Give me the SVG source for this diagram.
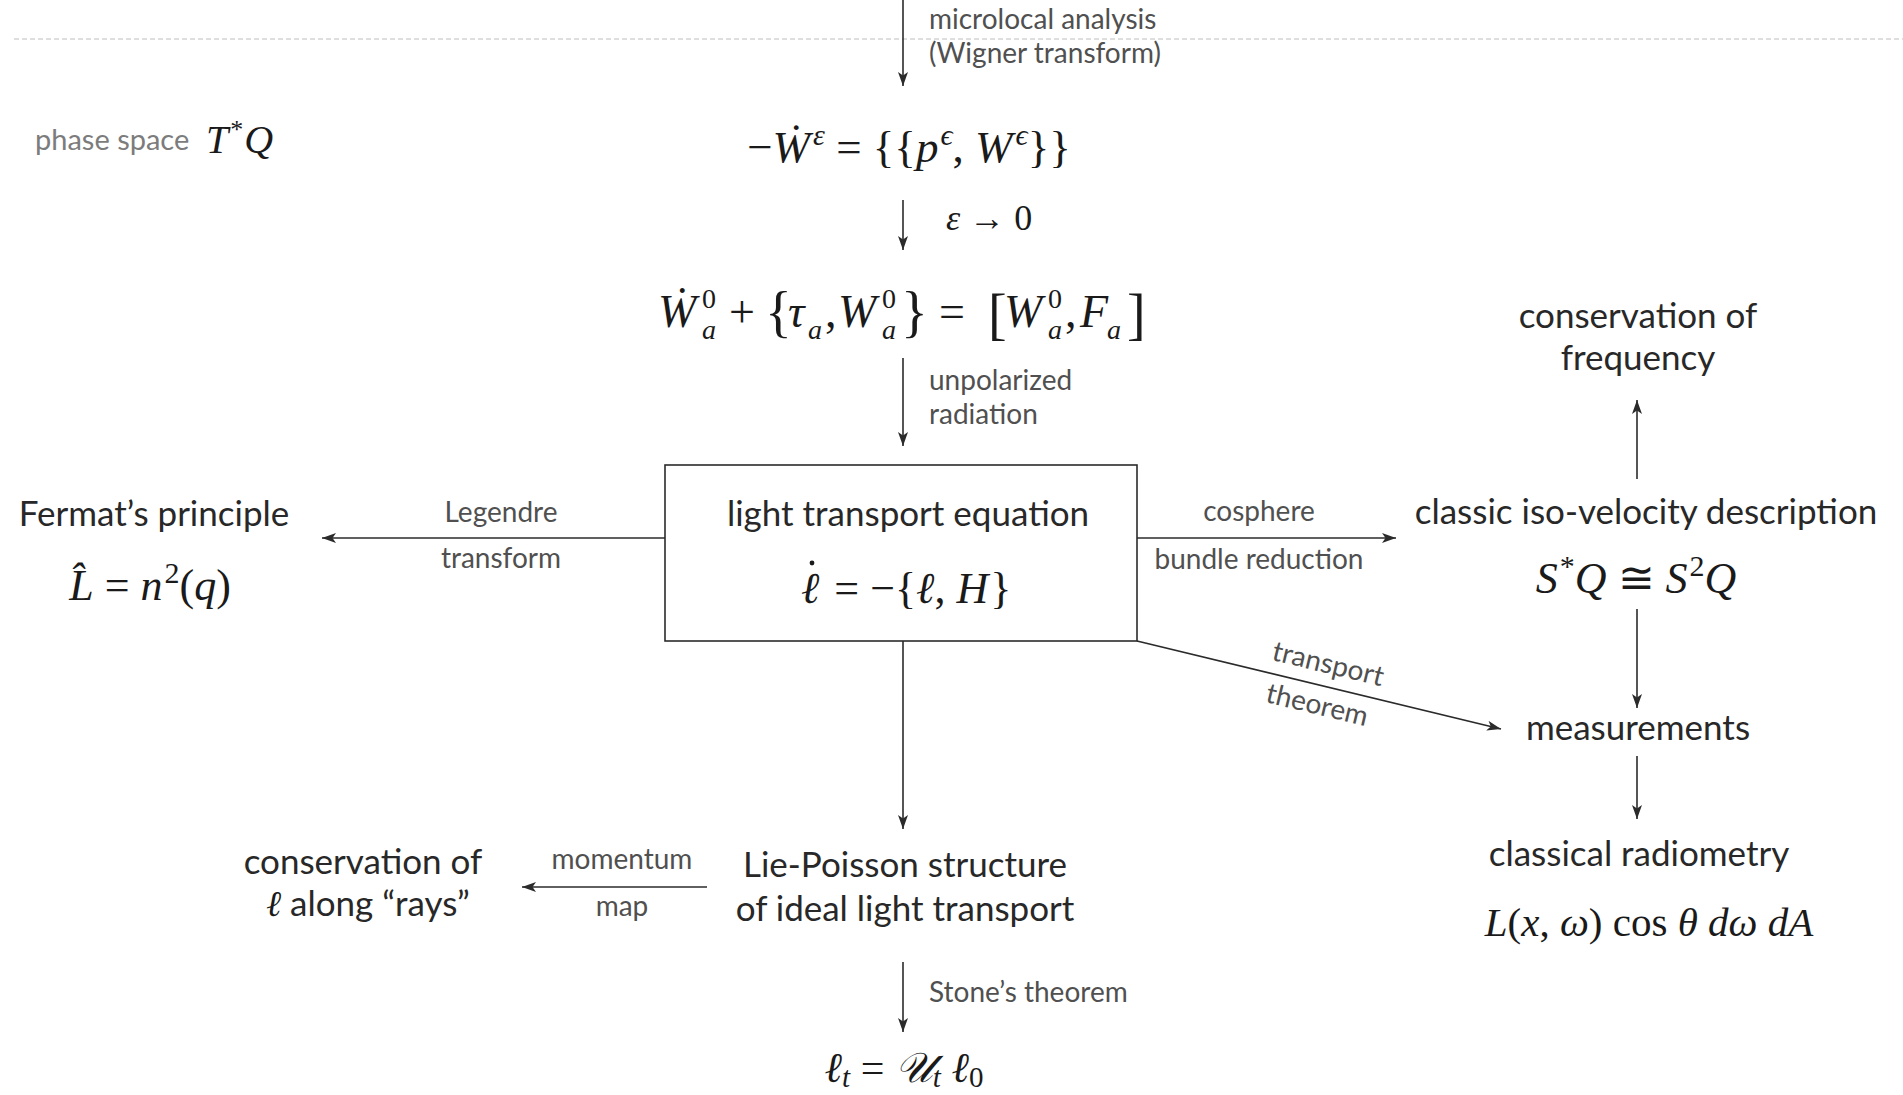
<svg xmlns="http://www.w3.org/2000/svg" width="1903" height="1095" viewBox="0 0 1903 1095">
  <style>
    .node { font-family: Lato, "Liberation Sans", sans-serif; font-size: 35px; fill: #282828; }
    .lbl { font-family: Lato, "Liberation Sans", sans-serif; font-size: 28px; fill: #505050; }
    .side { font-family: Lato, "Liberation Sans", sans-serif; font-size: 29px; fill: #7c7c7c; }
    .math { font-family: "Liberation Serif", "DejaVu Serif", serif; font-style: italic; fill: #1a1a1a; }
    .rm { font-style: normal; }
    .edge { stroke: #2b2b2b; stroke-width: 1.6; fill: none; marker-end: url(#arrow); }
    .box { stroke: #2b2b2b; stroke-width: 1.6; fill: #ffffff; }
    .sep { stroke: #bdbdbd; stroke-width: 1.2; stroke-dasharray: 5 3; fill: none; }
  </style>
  <defs>
    <marker id="arrow" markerUnits="userSpaceOnUse" markerWidth="16" markerHeight="12" refX="14" refY="5" orient="auto">
      <path d="M0,0 L14,5 L0,10 L3.5,5 Z" fill="#2b2b2b"/>
    </marker>
  </defs>

  <rect width="1903" height="1095" fill="#ffffff"/>

  <!-- separator between wave and phase-space levels -->
  <line class="sep" x1="14" y1="39" x2="1903" y2="39"/>

  <!-- connectors -->
  <g id="connectors">
    <line class="edge" x1="903" y1="0" x2="903" y2="86"/>
    <line class="edge" x1="903" y1="200" x2="903" y2="250"/>
    <line class="edge" x1="903" y1="358" x2="903" y2="446"/>
    <line class="edge" x1="665" y1="538" x2="322" y2="538"/>
    <line class="edge" x1="1137" y1="538" x2="1396" y2="538"/>
    <line class="edge" x1="1637" y1="479" x2="1637" y2="400"/>
    <line class="edge" x1="1637" y1="609" x2="1637" y2="708"/>
    <line class="edge" x1="1637" y1="756" x2="1637" y2="819"/>
    <line class="edge" x1="1137" y1="641" x2="1501" y2="729"/>
    <line class="edge" x1="903" y1="641" x2="903" y2="829"/>
    <line class="edge" x1="707" y1="887" x2="522" y2="887"/>
    <line class="edge" x1="903" y1="962" x2="903" y2="1032"/>

    <!-- edge labels -->
    <text class="lbl" x="929" y="29">microlocal analysis</text>
    <text class="lbl" x="929" y="63">(Wigner transform)</text>
    <text class="math" font-size="36" x="946" y="230">ε<tspan class="rm"> → 0</tspan></text>
    <text class="lbl" x="929" y="390">unpolarized</text>
    <text class="lbl" x="929" y="424">radiation</text>
    <text class="lbl" x="501" y="522" text-anchor="middle">Legendre</text>
    <text class="lbl" x="501" y="568" text-anchor="middle">transform</text>
    <text class="lbl" x="1259" y="521" text-anchor="middle">cosphere</text>
    <text class="lbl" x="1259" y="569" text-anchor="middle">bundle reduction</text>
    <text class="lbl" text-anchor="middle" transform="translate(1326,673) rotate(13.6)">transport</text>
    <text class="lbl" text-anchor="middle" transform="translate(1315,714) rotate(13.6)">theorem</text>
    <text class="lbl" x="622" y="869" text-anchor="middle">momentum</text>
    <text class="lbl" x="622" y="916" text-anchor="middle">map</text>
    <text class="lbl" x="929" y="1002">Stone’s theorem</text>
  </g>

  <g id="phase-space-note">
    <text class="side" x="35" y="150">phase space</text>
    <text class="math" font-size="40" x="206" y="153">T<tspan class="rm" font-size="26" dy="-15" dx="2">*</tspan><tspan dy="15" dx="1">Q</tspan></text>
  </g>

  <g id="wigner-equation">
    <text class="math" font-size="45" x="909" y="162" text-anchor="middle"><tspan class="rm">−</tspan>Ẇ<tspan font-size="30" dy="-17" dx="3">ε</tspan><tspan class="rm" dy="17"> = {{</tspan>p<tspan font-size="30" dy="-17" dx="2">ϵ</tspan><tspan class="rm" dy="17">, </tspan>W<tspan font-size="30" dy="-17" dx="3">ϵ</tspan><tspan class="rm" dy="17">}}</tspan></text>
  </g>

  <g id="limit-equation" class="math" font-size="46">
    <text x="658" y="327">Ẇ</text>
    <text x="702" y="308" font-size="28" class="rm">0</text>
    <text x="702" y="339" font-size="28">a</text>
    <text x="729" y="327" class="rm">+</text>
    <text x="765" y="331" font-size="56" class="rm">{</text>
    <text x="788" y="327">τ</text>
    <text x="808" y="339" font-size="28">a</text>
    <text x="825" y="327" class="rm">,</text>
    <text x="838" y="327">W</text>
    <text x="882" y="308" font-size="28" class="rm">0</text>
    <text x="882" y="339" font-size="28">a</text>
    <text x="901" y="331" font-size="56" class="rm">}</text>
    <text x="939" y="327" class="rm">=</text>
    <text x="988" y="333" font-size="56" class="rm">[</text>
    <text x="1004" y="327">W</text>
    <text x="1048" y="308" font-size="28" class="rm">0</text>
    <text x="1048" y="339" font-size="28">a</text>
    <text x="1065" y="327" class="rm">,</text>
    <text x="1080" y="327">F</text>
    <text x="1107" y="339" font-size="28">a</text>
    <text x="1127" y="333" font-size="56" class="rm">]</text>
  </g>

  <g id="light-transport-equation">
    <rect class="box" x="665" y="465" width="472" height="176"/>
    <text class="node" x="908" y="526" text-anchor="middle">light transport equation</text>
    <text class="math" font-size="44" x="801" y="603">ℓ<tspan class="rm" dx="4"> = −{</tspan>ℓ<tspan class="rm">, </tspan>H<tspan class="rm" dx="2">}</tspan></text>
    <circle cx="812" cy="563" r="2.4" fill="#1a1a1a"/>
  </g>

  <g id="fermat">
    <text class="node" x="154" y="526" text-anchor="middle">Fermat’s principle</text>
    <text class="math" font-size="44" x="150" y="600" text-anchor="middle">L̂<tspan class="rm"> = </tspan>n<tspan class="rm" font-size="30" dy="-17" dx="2">2</tspan><tspan class="rm" dy="17">(</tspan>q<tspan class="rm">)</tspan></text>
  </g>

  <g id="iso-velocity">
    <text class="node" x="1646" y="524" text-anchor="middle">classic iso-velocity description</text>
    <text class="math" font-size="44" x="1636" y="593" text-anchor="middle">S<tspan class="rm" font-size="30" dy="-17" dx="2">*</tspan><tspan dy="17">Q</tspan><tspan class="rm"> ≅ </tspan>S<tspan class="rm" font-size="30" dy="-17" dx="2">2</tspan><tspan dy="17">Q</tspan></text>
  </g>

  <g id="frequency">
    <text class="node" x="1638" y="328" text-anchor="middle">conservation of</text>
    <text class="node" x="1638" y="370" text-anchor="middle">frequency</text>
  </g>

  <g id="measurements">
    <text class="node" x="1638" y="740" text-anchor="middle">measurements</text>
  </g>

  <g id="radiometry">
    <text class="node" x="1639" y="866" text-anchor="middle">classical radiometry</text>
    <text class="math" font-size="41" x="1649" y="936" text-anchor="middle"><tspan>L</tspan><tspan class="rm">(</tspan>x<tspan class="rm">, </tspan>ω<tspan class="rm">)  cos </tspan>θ<tspan> dω dA</tspan></text>
  </g>

  <g id="lie-poisson">
    <text class="node" x="905" y="877" text-anchor="middle">Lie-Poisson structure</text>
    <text class="node" x="905" y="921" text-anchor="middle">of ideal light transport</text>
  </g>

  <g id="rays">
    <text class="node" x="363" y="874" text-anchor="middle">conservation of</text>
    <text class="node" x="368" y="916" text-anchor="middle"><tspan class="math" font-size="36">ℓ</tspan> along “rays”</text>
  </g>

  <g id="unitary-flow">
    <text class="math" font-size="42" x="904" y="1082" text-anchor="middle">ℓ<tspan font-size="29" dy="5">t</tspan><tspan class="rm" dy="-5"> = </tspan>𝒰<tspan font-size="29" dy="5">t</tspan><tspan dy="-5"> ℓ</tspan><tspan class="rm" font-size="29" dy="5">0</tspan></text>
  </g>
</svg>
